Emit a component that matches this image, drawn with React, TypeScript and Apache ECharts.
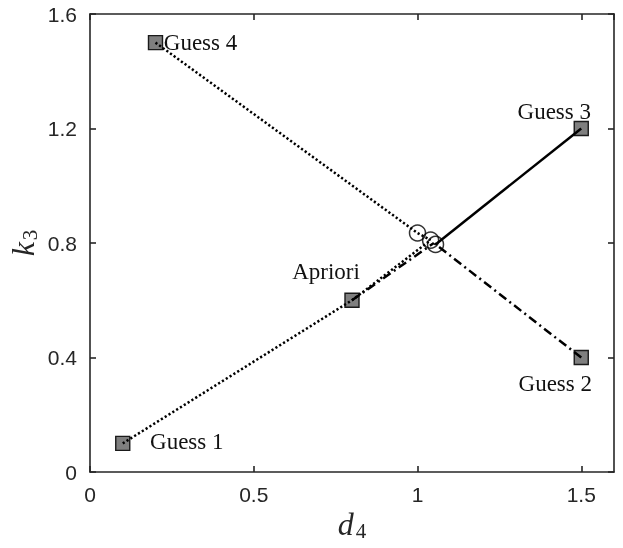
import React, { useEffect, useRef } from "react";
import * as echarts from "echarts";

// ---- data ----
const pointNames = ["Guess 1", "Guess 2", "Guess 3", "Guess 4", "Apriori"];
const pointX = [0.1, 1.5, 1.5, 0.2, 0.8];
const pointY = [0.1, 0.4, 1.2, 1.5, 0.6];

const circleX = [1.0, 1.04, 1.055];
const circleY = [0.835, 0.81, 0.795];

const guess1Path = [[0.1, 0.1], [0.8, 0.6], [1.04, 0.81]];
const aprioriPath = [[0.8, 0.6], [1.05, 0.8]];
const guess2Path = [[1.5, 0.4], [1.05, 0.8]];
const guess3Path = [[1.5, 1.2], [1.055, 0.795]];
const guess4Path = [[0.2, 1.5], [1.0, 0.835], [1.04, 0.81]];

const xTicks = [0, 0.5, 1, 1.5];
const yTicks = [0, 0.4, 0.8, 1.2, 1.6];

// label placement (style only)
const labelOffsets: Record<string, [number, number]> = {
  "Guess 1": [64, -2],
  "Guess 2": [-26, 26],
  "Guess 3": [-27, -17],
  "Guess 4": [45, 0],
  Apriori: [-26, -29],
};

const AXIS = "#262626";
const dotted = [2.2, 2.3];
const dashDot = [9, 4, 2, 4];

export default function App() {
  const ref = useRef<HTMLDivElement>(null);
  useEffect(() => {
    if (!ref.current) return;
    const chart = echarts.init(ref.current, undefined, { renderer: "svg" });
    const tickFont = { fontFamily: "Liberation Sans", fontSize: 21, color: AXIS };
    const baseAxis = {
      type: "value" as const,
      min: 0,
      max: 1.6,
      axisLine: { show: true, onZero: false, lineStyle: { color: AXIS, width: 1.6 } },
      axisTick: { show: true, inside: true, length: 6, lineStyle: { color: AXIS, width: 1.6 } },
      splitLine: { show: false },
    };
    const lineSeries = (data: number[][], type: any) => ({
      type: "line",
      data,
      symbol: "none",
      silent: true,
      z: 3,
      lineStyle: { color: "#000", width: 2.5, type, cap: "butt" },
    });
    const nameRich = {
      a: { fontFamily: "Liberation Serif", fontStyle: "italic", fontSize: 32, lineHeight: 30, color: AXIS, padding: [0, 2, 5, 0] },
      b: { fontFamily: "Liberation Serif", fontSize: 21, lineHeight: 20, color: AXIS, verticalAlign: "bottom" },
    };
    chart.setOption({
      animation: false,
      grid: { left: 90, right: 9, top: 14, bottom: 76, containLabel: false, outerBoundsMode: "none" },
      xAxis: [
        {
          ...baseAxis,
          position: "bottom",
          interval: 0.5,
          axisLabel: {
            ...tickFont,
            margin: 12,
            showMaxLabel: false,
            formatter: (v: number) => (xTicks.includes(v) ? String(v) : ""),
          },
          name: "{a|d}{b|4}",
          nameLocation: "middle",
          nameMoveOverlap: false,
          nameGap: 39,
          nameTextStyle: { rich: nameRich },
        },
        { ...baseAxis, position: "top", interval: 0.5, axisLabel: { show: false } },
      ],
      yAxis: [
        {
          ...baseAxis,
          position: "left",
          interval: 0.4,
          axisLabel: {
            ...tickFont,
            margin: 13,
            formatter: (v: number) => (yTicks.some((t) => Math.abs(t - v) < 1e-9) ? String(+v.toFixed(1)) : ""),
          },
          name: "{a|k}{b|3}",
          nameLocation: "middle",
          nameMoveOverlap: false,
          nameGap: 50,
          nameRotate: 90,
          nameTextStyle: { rich: nameRich },
        },
        { ...baseAxis, position: "right", interval: 0.4, axisLabel: { show: false } },
      ],
      series: [
        {
          type: "scatter",
          silent: true,
          z: 2,
          symbol: "rect",
          symbolSize: 14,
          itemStyle: { color: "#7f7f7f", borderColor: "#1a1a1a", borderWidth: 1.4, opacity: 1 },
          data: pointNames.map((n, i) => ({
            name: n,
            value: [pointX[i], pointY[i]],
            label: {
              show: true,
              formatter: n,
              position: "inside",
              align: "center",
              verticalAlign: "middle",
              offset: labelOffsets[n],
              fontFamily: "Liberation Serif",
              fontSize: 23,
              color: "#111",
            },
          })),
        },
        lineSeries(guess1Path, dotted),
        lineSeries(guess4Path, dotted),
        lineSeries(aprioriPath, dashDot),
        lineSeries(guess2Path, dashDot),
        lineSeries(guess3Path, "solid"),
        {
          type: "scatter",
          silent: true,
          z: 4,
          symbol: "circle",
          symbolSize: 16,
          itemStyle: { color: "rgba(0,0,0,0)", borderColor: "#000", borderWidth: 1.5 },
          data: circleX.map((x, i) => [x, circleY[i]]),
        },
      ],
    });
    return () => chart.dispose();
  }, []);
  return <div ref={ref} style={{ position: "fixed", left: 0, top: 0, width: 623, height: 548 }} />;
}
